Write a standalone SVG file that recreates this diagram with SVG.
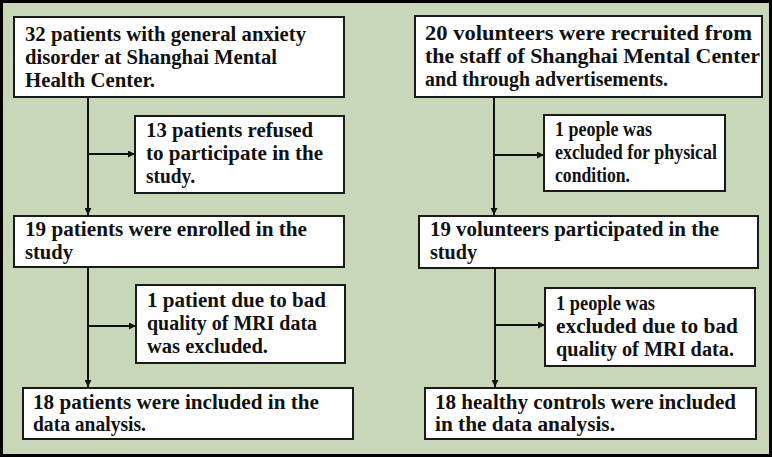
<svg xmlns="http://www.w3.org/2000/svg" width="772" height="457" viewBox="0 0 772 457">
<defs>
<marker id="arr" viewBox="0 0 10 10" refX="10" refY="5" markerWidth="7" markerHeight="7" markerUnits="userSpaceOnUse" orient="auto">
<path d="M0,0 L10,5 L0,10 z" fill="#111"/>
</marker>
<style>
.bg{fill:#c7d7b8;stroke:#000;stroke-width:3}
.box{fill:#fff;stroke:#1a1a1a;stroke-width:2}
.t{font-family:"Liberation Serif","Times New Roman",serif;font-weight:bold;font-size:20px;fill:#111}
.c{stroke:#111;stroke-width:2;fill:none;marker-end:url(#arr)}
</style>
</defs>
<rect class="bg" x="1.5" y="1.5" width="769" height="454"/>
<g id="connectors">
<path class="c" d="M88,97 V215"/>
<path class="c" d="M88,154 H135"/>
<path class="c" d="M88,267 V387"/>
<path class="c" d="M88,326 H136"/>
<path class="c" d="M494,97 V215"/>
<path class="c" d="M494,155 H544"/>
<path class="c" d="M495,268 V387"/>
<path class="c" d="M495,325 H545"/>
</g>
<g id="n1">
<rect class="box" x="14" y="17" width="330" height="80"/>
<text class="t"><tspan x="25" y="41" textLength="281" lengthAdjust="spacingAndGlyphs">32 patients with general anxiety</tspan></text>
<text class="t"><tspan x="25" y="64" textLength="252" lengthAdjust="spacingAndGlyphs">disorder at Shanghai Mental</tspan></text>
<text class="t"><tspan x="25" y="87" textLength="130" lengthAdjust="spacingAndGlyphs">Health Center.</tspan></text>
</g>
<g id="n2">
<rect class="box" x="135" y="116" width="209" height="77"/>
<text class="t"><tspan x="146" y="137" textLength="167" lengthAdjust="spacingAndGlyphs">13 patients refused</tspan></text>
<text class="t"><tspan x="146" y="160" textLength="177" lengthAdjust="spacingAndGlyphs">to participate in the</tspan></text>
<text class="t"><tspan x="146" y="183" textLength="49" lengthAdjust="spacingAndGlyphs">study.</tspan></text>
</g>
<g id="n3">
<rect class="box" x="14" y="216" width="330" height="51"/>
<text class="t"><tspan x="25" y="236" textLength="282" lengthAdjust="spacingAndGlyphs">19 patients were enrolled in the</tspan></text>
<text class="t"><tspan x="25" y="259" textLength="48" lengthAdjust="spacingAndGlyphs">study</tspan></text>
</g>
<g id="n4">
<rect class="box" x="136" y="285" width="209" height="78"/>
<text class="t"><tspan x="147" y="307" textLength="179" lengthAdjust="spacingAndGlyphs">1 patient due to bad</tspan></text>
<text class="t"><tspan x="147" y="330" textLength="170" lengthAdjust="spacingAndGlyphs">quality of MRI data</tspan></text>
<text class="t"><tspan x="147" y="353" textLength="121" lengthAdjust="spacingAndGlyphs">was excluded.</tspan></text>
</g>
<g id="n5">
<rect class="box" x="23" y="388" width="330" height="51"/>
<text class="t"><tspan x="33" y="409" textLength="286" lengthAdjust="spacingAndGlyphs">18 patients were included in the</tspan></text>
<text class="t"><tspan x="33" y="431" textLength="113" lengthAdjust="spacingAndGlyphs">data analysis.</tspan></text>
</g>
<g id="n6">
<rect class="box" x="415" y="16" width="347" height="81"/>
<text class="t"><tspan x="425" y="40" textLength="327" lengthAdjust="spacingAndGlyphs">20 volunteers were recruited from</tspan></text>
<text class="t"><tspan x="425" y="63" textLength="335" lengthAdjust="spacingAndGlyphs">the staff of Shanghai Mental Center</tspan></text>
<text class="t"><tspan x="425" y="86" textLength="243" lengthAdjust="spacingAndGlyphs">and through advertisements.</tspan></text>
</g>
<g id="n7">
<rect class="box" x="544" y="115" width="181" height="76"/>
<text class="t"><tspan x="555" y="136" textLength="97" lengthAdjust="spacingAndGlyphs">1 people was</tspan></text>
<text class="t"><tspan x="555" y="159" textLength="162" lengthAdjust="spacingAndGlyphs">excluded for physical</tspan></text>
<text class="t"><tspan x="555" y="182" textLength="75" lengthAdjust="spacingAndGlyphs">condition.</tspan></text>
</g>
<g id="n8">
<rect class="box" x="419" y="216" width="339" height="52"/>
<text class="t"><tspan x="430" y="236" textLength="289" lengthAdjust="spacingAndGlyphs">19 volunteers participated in the</tspan></text>
<text class="t"><tspan x="430" y="259" textLength="47" lengthAdjust="spacingAndGlyphs">study</tspan></text>
</g>
<g id="n9">
<rect class="box" x="545" y="288" width="210" height="78"/>
<text class="t"><tspan x="556" y="310" textLength="99" lengthAdjust="spacingAndGlyphs">1 people was</tspan></text>
<text class="t"><tspan x="556" y="333" textLength="182" lengthAdjust="spacingAndGlyphs">excluded due to bad</tspan></text>
<text class="t"><tspan x="556" y="356" textLength="178" lengthAdjust="spacingAndGlyphs">quality of MRI data.</tspan></text>
</g>
<g id="n10">
<rect class="box" x="425" y="388" width="331" height="51"/>
<text class="t"><tspan x="435" y="409" textLength="301" lengthAdjust="spacingAndGlyphs">18 healthy controls were included</tspan></text>
<text class="t"><tspan x="435" y="431" textLength="180" lengthAdjust="spacingAndGlyphs">in the data analysis.</tspan></text>
</g>
</svg>
